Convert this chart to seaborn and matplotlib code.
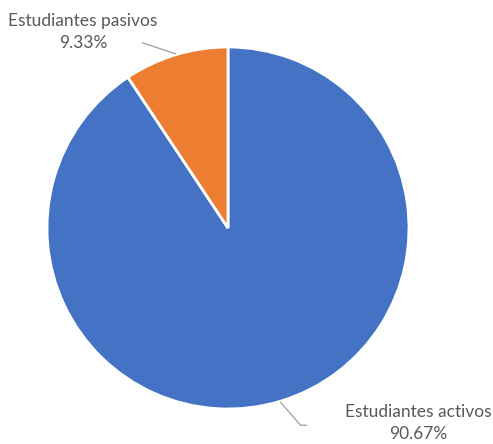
import numpy as np
import matplotlib
matplotlib.use("Agg")
import matplotlib.pyplot as plt
import seaborn as sns

# Data
labels = ["Estudiantes activos", "Estudiantes pasivos"]
values = [90.67, 9.33]
colors = ["#4472C4", "#ED7D31"]

sns.set_theme(style="white")
plt.rcParams['font.family'] = ['Lato', 'DejaVu Sans']

fig = plt.figure(figsize=(4.93, 4.44), dpi=100)
ax = fig.add_axes([0, 0, 1, 1])

cx, cy, r = 228, 216, 181
wedges, _ = ax.pie(values, colors=colors, startangle=90, counterclock=False,
                   center=(cx, cy), radius=r, frame=True,
                   wedgeprops=dict(edgecolor='white', linewidth=2))
ax.set_xlim(0, 493)
ax.set_ylim(0, 444)
ax.set_aspect('equal')
ax.axis('off')

txt_color = "#595959"
line_color = "#A6A6A6"

# leader line + label for each wedge
label_pos = {0: (418, 444 - 423), 1: (83, 444 - 32)}
for i, w in enumerate(wedges):
    mid = np.deg2rad((w.theta1 + w.theta2) / 2)
    ex, ey = cx + (r + 1) * np.cos(mid), cy + (r + 1) * np.sin(mid)
    tx, ty = label_pos[i]
    if i == 0:
        ax.plot([ex, ex + 20, ex + 26], [ey, ey - 23, ey - 23], color=line_color, lw=1)
    else:
        ax.plot([ex, ex - 33], [ey, ey + 11], color=line_color, lw=1)
    ax.text(tx, ty, f"{labels[i]}\n{values[i]:.2f}%", ha='center', va='center',
            fontsize=12.5, color=txt_color, linespacing=1.5)

fig.savefig("out.png", dpi=100)
